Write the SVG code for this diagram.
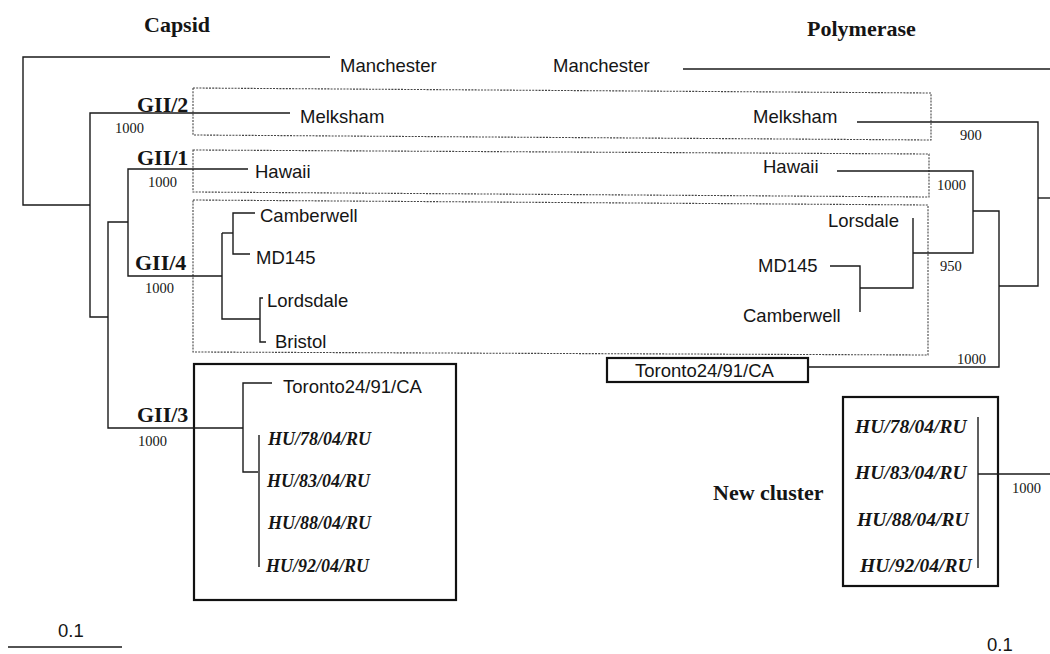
<svg xmlns="http://www.w3.org/2000/svg" width="1050" height="654" viewBox="0 0 1050 654">
<style>
.t{font-family:"Liberation Sans",Arial,sans-serif;font-size:18.5px;fill:#151515}
.h{font-family:"Liberation Serif","Times New Roman",serif;font-size:22px;font-weight:bold;fill:#151515}
.hu{font-family:"Liberation Serif","Times New Roman",serif;font-size:18px;font-weight:bold;font-style:italic;fill:#151515}
.hu2{font-family:"Liberation Serif","Times New Roman",serif;font-size:19.5px;font-weight:bold;font-style:italic;fill:#151515}
.n{font-family:"Liberation Serif","Times New Roman",serif;font-size:14.5px;fill:#151515}
.br{fill:none;stroke:#1a1a1a;stroke-width:1.4}
.dot{fill:none;stroke:#444;stroke-width:1.1;stroke-dasharray:2 1.2}
.box{fill:none;stroke:#111;stroke-width:2.2}
</style>
<rect width="1050" height="654" fill="#fff"/>
<g id="titles">
<text class="h" x="144" y="32">Capsid</text>
<text class="h" x="807" y="36">Polymerase</text>
</g>
<g id="clusters">
<polygon id="box-gii2" class="dot" points="193,88 931,93 931,140 193,135"/>
<polygon id="box-gii1" class="dot" points="193,150 929,154 929,197 193,192"/>
<polygon id="box-gii4" class="dot" points="193,200 928,205 928,355 193,352"/>
<rect id="box-gii3" class="box" x="194" y="364" width="262" height="236"/>
<rect id="box-toronto-pol" class="box" x="607" y="358" width="201" height="24"/>
<rect id="box-newcluster" class="box" x="843" y="397" width="155" height="189"/>
</g>
<g id="connectors">
<!-- capsid tree -->
<path class="br" d="M330,57 H23 V205 H90"/>
<path class="br" d="M290,113 H90 V317 H108"/>
<path class="br" d="M128,222 H108 V428 H243"/>
<path class="br" d="M248,169 H128 V276 H222"/>
<path class="br" d="M222,233 V319 H260"/>
<path class="br" d="M222,233 H233"/>
<path class="br" d="M255,213 H233 V254 H250"/>
<path class="br" d="M263,298 H260 V342 H266"/>
<path class="br" d="M272,383 H243 V472 H258"/>
<path class="br" d="M259,435 V567"/>
<path class="br" d="M8,647 H122"/>
<!-- polymerase tree -->
<path class="br" d="M683,69 H1050"/>
<path class="br" d="M857,122 H1038 V286 H999"/>
<path class="br" d="M1038,198 H1050"/>
<path class="br" d="M973,211 H999 V367 H808"/>
<path class="br" d="M837,171 H973 V253 H913"/>
<path class="br" d="M913,218 V288 H860"/>
<path class="br" d="M830,266 H860 V312"/>
<path class="br" d="M978,417 V568"/>
<path class="br" d="M978,474 H1050"/>
</g>
<g id="capsid-labels">
<text id="c-manchester" class="t" x="340" y="72">Manchester</text>
<text id="c-melksham" class="t" x="300" y="123">Melksham</text>
<text id="c-hawaii" class="t" x="255" y="178">Hawaii</text>
<text id="c-camberwell" class="t" x="260" y="222">Camberwell</text>
<text id="c-md145" class="t" x="256" y="264">MD145</text>
<text id="c-lordsdale" class="t" x="267" y="307">Lordsdale</text>
<text id="c-bristol" class="t" x="275" y="348">Bristol</text>
<text id="c-toronto" class="t" x="283" y="393">Toronto24/91/CA</text>
<text id="c-hu78" class="hu" x="268" y="445">HU/78/04/RU</text>
<text id="c-hu83" class="hu" x="267" y="487">HU/83/04/RU</text>
<text id="c-hu88" class="hu" x="268" y="529">HU/88/04/RU</text>
<text id="c-hu92" class="hu" x="266" y="572">HU/92/04/RU</text>
<text id="gii2" class="h" x="137" y="112">GII/2</text>
<text id="gii1" class="h" x="137" y="165">GII/1</text>
<text id="gii4" class="h" x="135" y="270">GII/4</text>
<text id="gii3" class="h" x="137" y="422">GII/3</text>
<text class="n" x="115" y="133">1000</text>
<text class="n" x="148" y="187">1000</text>
<text class="n" x="145" y="293">1000</text>
<text class="n" x="138" y="446">1000</text>
<text id="c-scale" class="t" x="58" y="637">0.1</text>
</g>
<g id="polymerase-labels">
<text id="p-manchester" class="t" x="553" y="72">Manchester</text>
<text id="p-melksham" class="t" x="753" y="123">Melksham</text>
<text id="p-hawaii" class="t" x="763" y="173">Hawaii</text>
<text id="p-lorsdale" class="t" x="828" y="227">Lorsdale</text>
<text id="p-md145" class="t" x="758" y="272">MD145</text>
<text id="p-camberwell" class="t" x="743" y="322">Camberwell</text>
<text id="p-toronto" class="t" x="635" y="377">Toronto24/91/CA</text>
<text id="p-hu78" class="hu2" x="855" y="433">HU/78/04/RU</text>
<text id="p-hu83" class="hu2" x="855" y="479">HU/83/04/RU</text>
<text id="p-hu88" class="hu2" x="857" y="526">HU/88/04/RU</text>
<text id="p-hu92" class="hu2" x="860" y="572">HU/92/04/RU</text>
<text id="newcluster" class="h" x="713" y="500">New cluster</text>
<text class="n" x="960" y="140">900</text>
<text class="n" x="937" y="190">1000</text>
<text class="n" x="940" y="271">950</text>
<text class="n" x="957" y="364">1000</text>
<text class="n" x="1012" y="493">1000</text>
<text id="p-scale" class="t" x="987" y="651">0.1</text>
</g>
</svg>
